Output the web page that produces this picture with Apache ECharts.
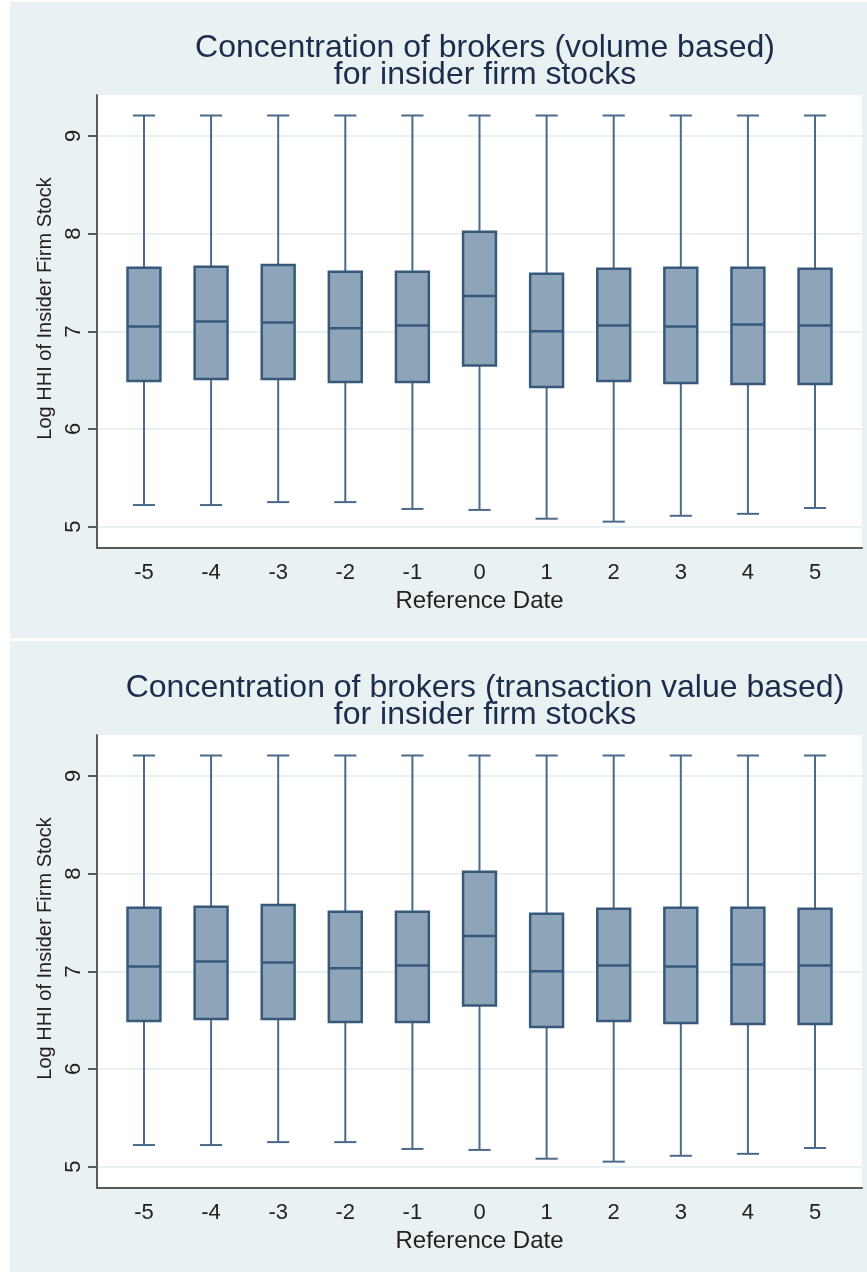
<!DOCTYPE html>
<html>
<head>
<meta charset="utf-8">
<script src="https://cdn.jsdelivr.net/npm/echarts@6/dist/echarts.min.js"></script>
<style>
  html, body { margin: 0; padding: 0; background: #ffffff; }
  #chart { width: 867px; height: 1272px; }
</style>
</head>
<body>
<div id="chart"></div>
<script>
// ---- Data ----
const categories = [-5, -4, -3, -2, -1, 0, 1, 2, 3, 4, 5];
const yTicks = [5, 6, 7, 8, 9];

// Panel 1: volume based
const volUpper  = [9.21, 9.21, 9.21, 9.21, 9.21, 9.21, 9.21, 9.21, 9.21, 9.21, 9.21];
const volQ3     = [7.65, 7.66, 7.68, 7.61, 7.61, 8.02, 7.59, 7.64, 7.65, 7.65, 7.64];
const volMedian = [7.05, 7.10, 7.09, 7.03, 7.06, 7.36, 7.00, 7.06, 7.05, 7.07, 7.06];
const volQ1     = [6.49, 6.51, 6.51, 6.48, 6.48, 6.65, 6.43, 6.49, 6.47, 6.46, 6.46];
const volLower  = [5.22, 5.22, 5.25, 5.25, 5.18, 5.17, 5.08, 5.05, 5.11, 5.13, 5.19];

// Panel 2: transaction value based
const valUpper  = [9.21, 9.21, 9.21, 9.21, 9.21, 9.21, 9.21, 9.21, 9.21, 9.21, 9.21];
const valQ3     = [7.65, 7.66, 7.68, 7.61, 7.61, 8.02, 7.59, 7.64, 7.65, 7.65, 7.64];
const valMedian = [7.05, 7.10, 7.09, 7.03, 7.06, 7.36, 7.00, 7.06, 7.05, 7.07, 7.06];
const valQ1     = [6.49, 6.51, 6.51, 6.48, 6.48, 6.65, 6.43, 6.49, 6.47, 6.46, 6.46];
const valLower  = [5.22, 5.22, 5.25, 5.25, 5.18, 5.17, 5.08, 5.05, 5.11, 5.13, 5.19];

const titles = [
  'Concentration of brokers (volume based)\nfor insider firm stocks',
  'Concentration of brokers (transaction value based)\nfor insider firm stocks'
];
const xName = 'Reference Date';
const yName = 'Log HHI of Insider Firm Stock';

// ---- Build ----
function rows(up, q3, med, q1, lo) {
  return categories.map((c, i) => [c, lo[i], q1[i], med[i], q3[i], up[i]]);
}
const data1 = rows(volUpper, volQ3, volMedian, volQ1, volLower);
const data2 = rows(valUpper, valQ3, valMedian, valQ1, valLower);

const FONT = '"Liberation Sans", Arial, sans-serif';
const BOX_FILL = '#8ea4b9';
const BOX_LINE = '#36597c';
const WHISK = '#4b6a8a';

function renderBox(params, api) {
  const x = api.value(0);
  const pLo = api.coord([x, api.value(1)]);
  const pQ1 = api.coord([x, api.value(2)]);
  const pMed = api.coord([x, api.value(3)]);
  const pQ3 = api.coord([x, api.value(4)]);
  const pUp = api.coord([x, api.value(5)]);
  const boxW = api.size([0.49, 0])[0];
  const capW = api.size([0.33, 0])[0];
  const cx = pMed[0];
  return {
    type: 'group',
    children: [
      { type: 'line', shape: { x1: cx, y1: pUp[1], x2: cx, y2: pQ3[1] }, style: { stroke: WHISK, lineWidth: 2 } },
      { type: 'line', shape: { x1: cx, y1: pQ1[1], x2: cx, y2: pLo[1] }, style: { stroke: WHISK, lineWidth: 2 } },
      { type: 'line', shape: { x1: cx - capW / 2, y1: pUp[1], x2: cx + capW / 2, y2: pUp[1] }, style: { stroke: WHISK, lineWidth: 2 } },
      { type: 'line', shape: { x1: cx - capW / 2, y1: pLo[1], x2: cx + capW / 2, y2: pLo[1] }, style: { stroke: WHISK, lineWidth: 2 } },
      { type: 'rect', shape: { x: cx - boxW / 2, y: pQ3[1], width: boxW, height: pQ1[1] - pQ3[1] }, style: { fill: BOX_FILL, stroke: BOX_LINE, lineWidth: 2.5 } },
      { type: 'line', shape: { x1: cx - boxW / 2, y1: pMed[1], x2: cx + boxW / 2, y2: pMed[1] }, style: { stroke: BOX_LINE, lineWidth: 2.5 } }
    ]
  };
}

const PANEL_OFF = 640;
const gridTop = 95, gridH = 453;

function xAxisCfg(idx) {
  return {
    type: 'value', gridIndex: idx, min: -5.7, max: 5.7,
    name: xName, nameLocation: 'middle', nameGap: 41,
    nameTextStyle: { fontFamily: FONT, fontSize: 24, color: '#222' },
    axisLine: { show: true, onZero: false, lineStyle: { color: '#5a5a5a', width: 2 } },
    axisTick: { show: false },
    splitLine: { show: false },
    axisLabel: {
      customValues: categories, margin: 14,
      fontFamily: FONT, fontSize: 22, color: '#222',
      formatter: v => String(v)
    }
  };
}
function yAxisCfg(idx) {
  return {
    type: 'value', gridIndex: idx, min: 4.78, max: 9.42,
    name: yName, nameLocation: 'middle', nameGap: 35,
    nameTextStyle: { fontFamily: FONT, fontSize: 20, color: '#222', padding: [0, 0, 0, 26] },
    axisLine: { show: true, onZero: false, lineStyle: { color: '#5a5a5a', width: 2 } },
    axisTick: { show: true, customValues: yTicks, length: 9, lineStyle: { color: '#5a5a5a', width: 2 } },
    splitLine: { show: true, lineStyle: { color: '#e9f1f3', width: 2 } },
    axisLabel: {
      customValues: yTicks, rotate: 90, margin: 12,
      fontFamily: FONT, fontSize: 22, color: '#222',
      formatter: v => String(v)
    }
  };
}

const chart = echarts.init(document.getElementById('chart'), null, { renderer: 'canvas' });
chart.setOption({
  animation: false,
  backgroundColor: '#ffffff',
  graphic: [
    { type: 'rect', z: -10, shape: { x: 10, y: 2, width: 857, height: 636 }, style: { fill: '#e9f1f3' } },
    { type: 'rect', z: -10, shape: { x: 10, y: 641, width: 857, height: 631 }, style: { fill: '#e9f1f3' } }
  ],
  title: [0, 1].map(i => ({
    text: titles[i], left: 480, top: 30 + i * PANEL_OFF, textAlign: 'center',
    textStyle: { fontFamily: FONT, fontSize: 32, fontWeight: 'normal', color: '#1e2c4c', lineHeight: 27 }
  })),
  grid: [0, 1].map(i => ({
    left: 97, right: 5, top: gridTop + i * PANEL_OFF, height: gridH,
    show: true, backgroundColor: '#ffffff', borderWidth: 0
  })),
  xAxis: [xAxisCfg(0), xAxisCfg(1)],
  yAxis: [yAxisCfg(0), yAxisCfg(1)],
  series: [
    { type: 'custom', xAxisIndex: 0, yAxisIndex: 0, data: data1, renderItem: renderBox, encode: { x: 0, y: [1, 2, 3, 4, 5] } },
    { type: 'custom', xAxisIndex: 1, yAxisIndex: 1, data: data2, renderItem: renderBox, encode: { x: 0, y: [1, 2, 3, 4, 5] } }
  ]
});
</script>
</body>
</html>
